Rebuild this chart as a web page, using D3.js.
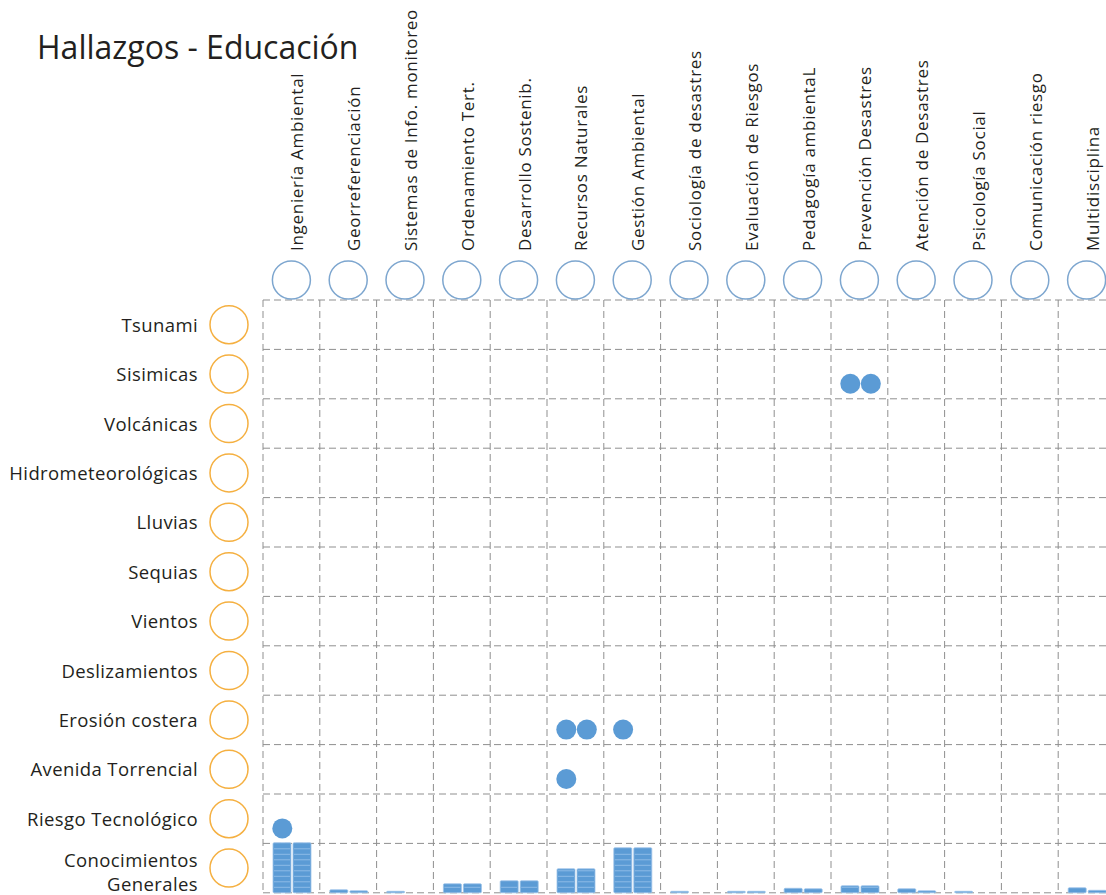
<!DOCTYPE html>
<html><head><meta charset="utf-8">
<script src="https://cdn.jsdelivr.net/npm/d3@7"></script>
<style>
html,body{margin:0;padding:0;background:#fff;}
svg{display:block;}
text{font-family:"Open Sans",sans-serif;fill:#231f20;}
</style></head>
<body>
<svg id="chart" width="1106" height="895"></svg>
<script>
const title = "Hallazgos - Educación";
const columns = ["Ingeniería Ambiental","Georreferenciación","Sistemas de Info. monitoreo","Ordenamiento Tert.","Desarrollo Sostenib.","Recursos Naturales","Gestión Ambiental","Sociología de desastres","Evaluación de Riesgos","Pedagogía ambientaL","Prevención Desastres","Atención de Desastres","Psicología Social","Comunicación riesgo","Multidisciplina"];
const rows = ["Tsunami","Sisimicas","Volcánicas","Hidrometeorológicas","Lluvias","Sequias","Vientos","Deslizamientos","Erosión costera","Avenida Torrencial","Riesgo Tecnológico","Conocimientos Generales"];
// dots: [row, column, count]
const dotRows = ["Sisimicas","Erosión costera","Erosión costera","Avenida Torrencial","Riesgo Tecnológico"];
const dotCols = ["Prevención Desastres","Recursos Naturales","Gestión Ambiental","Recursos Naturales","Ingeniería Ambiental"];
const dotCounts = [2,2,1,1,1];
// bottom row bars (two per column)
const barsA = [10,0.6,0.3,1.8,2.4,4.8,9,0.3,0.3,0.9,1.4,0.8,0.3,0,1.0];
const barsB = [10,0.4,0,1.8,2.4,4.8,9,0,0.3,0.8,1.4,0.4,0,0,0.5];

const svg = d3.select("#chart");
const gridLeft = 263, colW = 56.8, gridTop = 300, rowH = 49.4;
const x = d3.scaleBand().domain(columns).range([gridLeft, gridLeft + colW*columns.length]).padding(0);
const y = d3.scaleBand().domain(rows).range([gridTop, gridTop + rowH*rows.length]).padding(0);
const inner = d3.scaleBand().domain(["a","b"]).range([10, 48]).paddingInner(0.1);
const h = d3.scaleLinear().domain([0,10]).range([0,50]);
const blue = "#5b9bd5";

svg.append("text").attr("x",37).attr("y",59).attr("font-size",32).text(title);

// grid
const grid = svg.append("g").attr("stroke","#8f8f8f").attr("stroke-width",1).attr("stroke-dasharray","7,4");
rows.forEach(r=>{
  grid.append("line").attr("x1",gridLeft).attr("x2",1106).attr("y1",y(r)).attr("y2",y(r));
});
grid.append("line").attr("x1",gridLeft).attr("x2",1106).attr("y1",y.range()[1]).attr("y2",y.range()[1]);
columns.forEach(c=>{
  grid.append("line").attr("x1",x(c)).attr("x2",x(c)).attr("y1",gridTop).attr("y2",y.range()[1]);
});

// column headers
columns.forEach(c=>{
  const cx = x(c)+x.bandwidth()/2;
  svg.append("circle").attr("cx",cx).attr("cy",280).attr("r",19)
    .attr("fill","none").attr("stroke","#7da6cf").attr("stroke-width",1.5);
  svg.append("text").attr("transform",`translate(${cx+12},251) rotate(-90)`)
    .attr("font-size",17).attr("letter-spacing",0.7).text(c);
});

// row headers
rows.forEach(r=>{
  const cy = y(r)+y.bandwidth()/2;
  svg.append("circle").attr("cx",229).attr("cy",cy).attr("r",19)
    .attr("fill","none").attr("stroke","#f5b041").attr("stroke-width",1.5);
  const t = svg.append("g").attr("font-size",18.5).attr("letter-spacing",0.4);
  if (r === "Conocimientos Generales") {
    t.append("text").attr("x",198).attr("y",cy-1).attr("text-anchor","end").text("Conocimientos");
    t.append("text").attr("x",198).attr("y",cy+23).attr("text-anchor","end").text("Generales");
  } else {
    t.append("text").attr("x",198).attr("y",cy+7).attr("text-anchor","end").text(r);
  }
});

// dots
dotRows.forEach((r,k)=>{
  for (let i=0;i<dotCounts[k];i++){
    svg.append("circle")
      .attr("cx", x(dotCols[k]) + x.bandwidth()*0.34 + i*20.5)
      .attr("cy", y(r) + y.bandwidth() - 15)
      .attr("r", 10).attr("fill", blue);
  }
});

// bars
const base = y.range()[1];
const barG = svg.append("g");
columns.forEach((c,k)=>{
  [["a",barsA[k]],["b",barsB[k]]].forEach(([key,v])=>{
    if (v<=0) return;
    const bx = x(c)+inner(key), bw = inner.bandwidth(), bh = h(v);
    barG.append("rect").attr("x",bx).attr("y",base-bh).attr("width",bw).attr("height",bh)
      .attr("fill",blue).attr("stroke","#9cc3e8").attr("stroke-width",0.8).attr("rx",1);
    for (let s=base-5.5; s>base-bh+1; s-=5.5){
      barG.append("line").attr("x1",bx+1).attr("x2",bx+bw-1).attr("y1",s).attr("y2",s)
        .attr("stroke","#8dbbe6").attr("stroke-width",1);
    }
  });
});
</script>
</body></html>
